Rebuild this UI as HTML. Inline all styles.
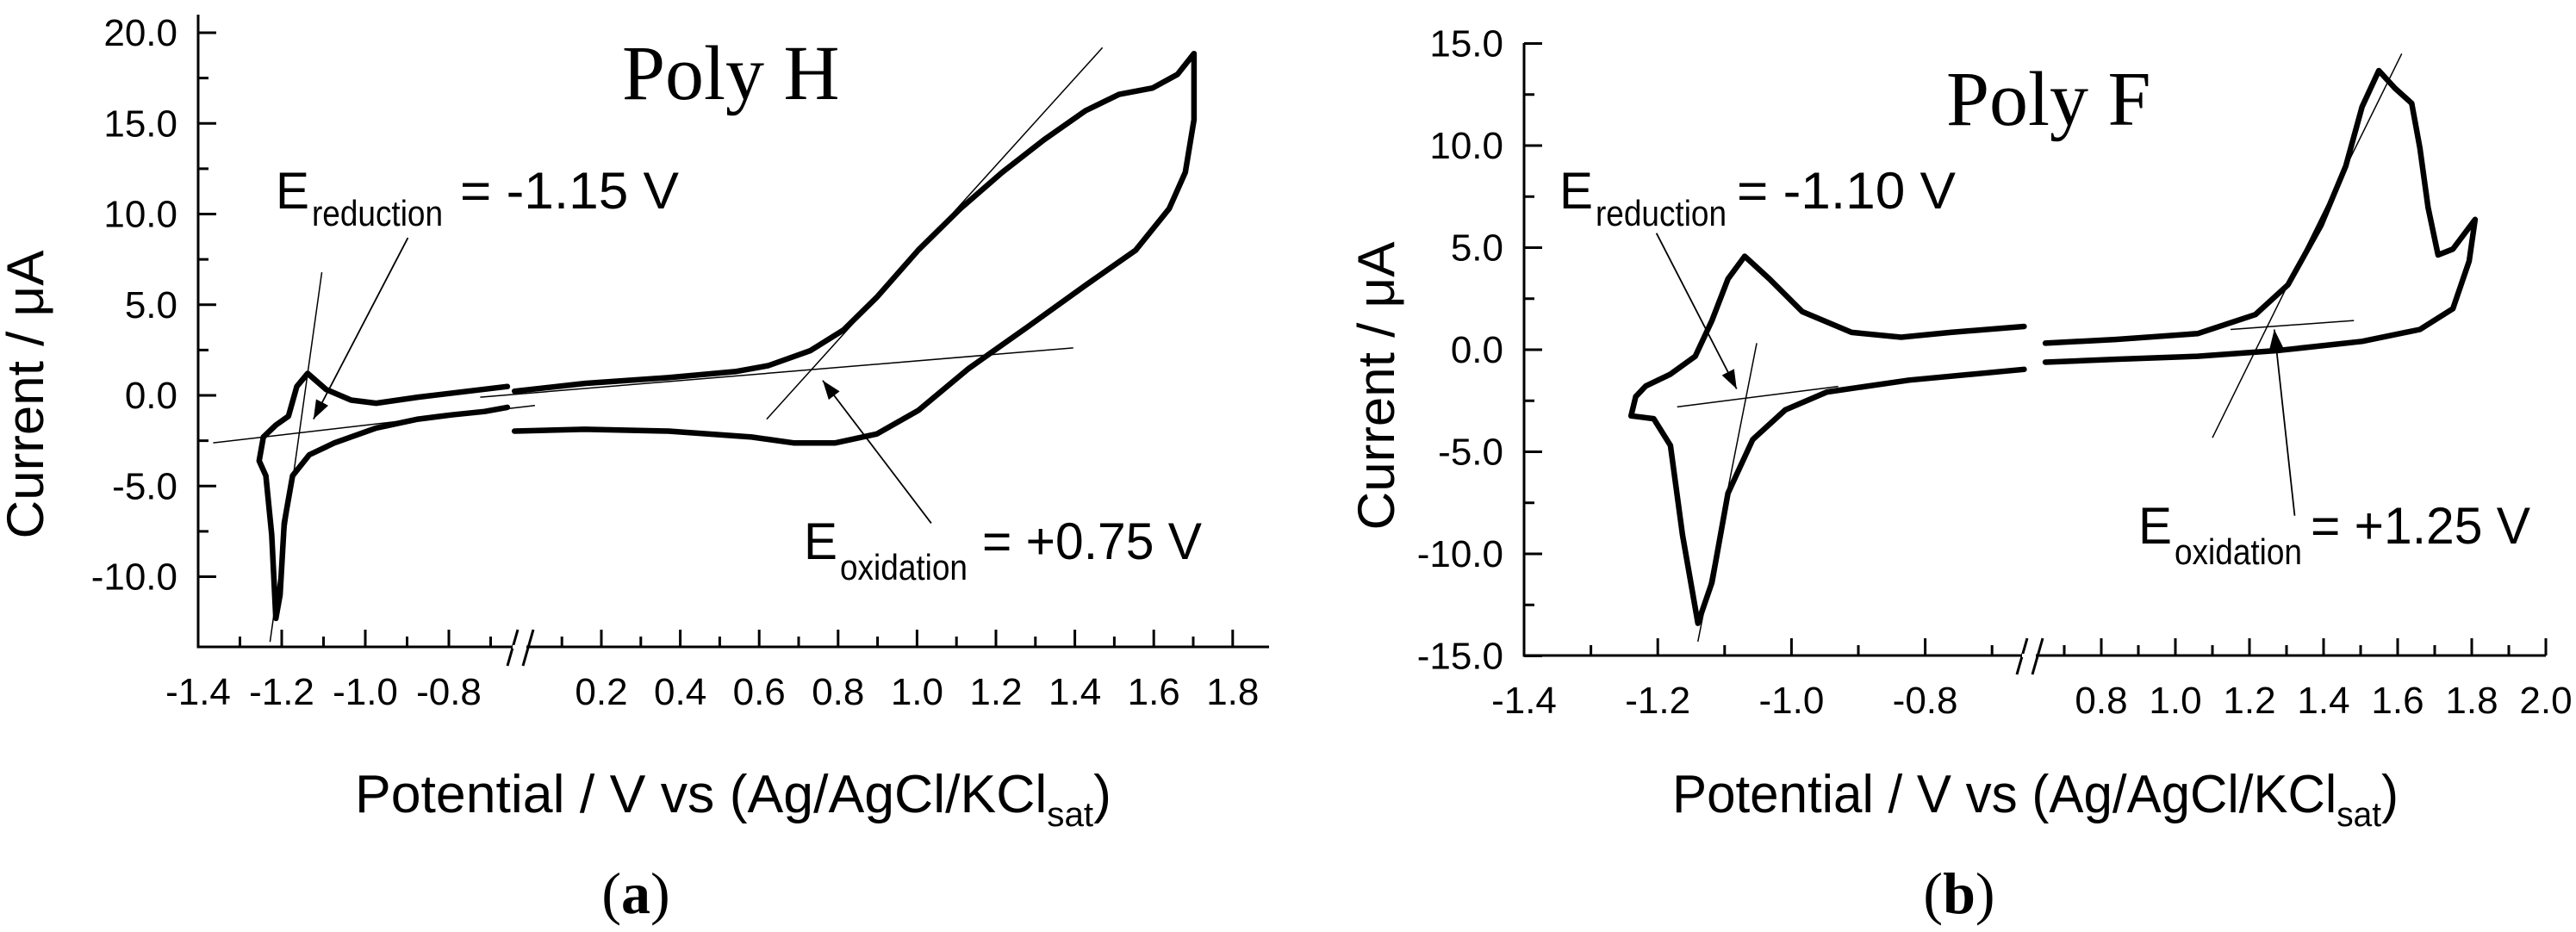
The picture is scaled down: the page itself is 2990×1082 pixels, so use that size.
<!DOCTYPE html>
<html><head><meta charset="utf-8"><style>
html,body{margin:0;padding:0;background:#fff}
svg text{font-family:"Liberation Sans",sans-serif;fill:#000}
.serif{font-family:"Liberation Serif",serif !important}
</style></head><body>
<svg id="fig" width="2990" height="1077" viewBox="0 0 2990 1077" xmlns="http://www.w3.org/2000/svg">
<defs><marker id="ah2" markerWidth="24" markerHeight="24" refX="22" refY="8" orient="auto" markerUnits="userSpaceOnUse"><path d="M0,0 L22,8 L0,16 z" fill="#000"/></marker></defs>
</svg>
<script>
// ---- Panel (a) Poly H data ----
const hLeftX = [-0.66,-0.874,-0.974,-1.034,-1.094,-1.138,-1.164,-1.184,-1.214,-1.244,-1.254,-1.238,-1.224,-1.214,-1.204,-1.194,-1.174,-1.134,-1.074,-0.974,-0.874,-0.794,-0.714,-0.66];
const hLeftY = [0.49,-0.10,-0.43,-0.26,0.33,1.21,0.49,-1.15,-1.64,-2.30,-3.61,-4.43,-7.70,-12.3,-11.0,-7.05,-4.43,-3.28,-2.62,-1.80,-1.31,-1.08,-0.89,-0.66];
const hRightX = [-0.02,0.158,0.37,0.539,0.623,0.729,0.814,0.898,1.004,1.11,1.216,1.322,1.427,1.512,1.597,1.66,1.702,1.702,1.68,1.639,1.554,1.427,1.28,1.131,1.004,0.898,0.793,0.687,0.581,0.37,0.158,-0.02];
const hRightY = [0.23,0.66,0.98,1.31,1.64,2.46,3.61,5.41,8.03,10.3,12.3,14.1,15.7,16.6,16.95,17.7,18.85,15.2,12.3,10.3,8.0,6.07,3.77,1.48,-0.82,-2.13,-2.62,-2.62,-2.30,-1.97,-1.87,-1.97];
const hYTicks = [20,15,10,5,0,-5,-10];
const hYTickLabels = ["20.0","15.0","10.0","5.0","0.0","-5.0","-10.0"];
const hXTicksLeft = [-1.4,-1.2,-1.0,-0.8];
const hXTickLabelsLeft = ["-1.4","-1.2","-1.0","-0.8"];
const hXTicksRight = [0.2,0.4,0.6,0.8,1.0,1.2,1.4,1.6,1.8];
const hXTickLabelsRight = ["0.2","0.4","0.6","0.8","1.0","1.2","1.4","1.6","1.8"];
// ---- Panel (b) Poly F data ----
const fLeftX = [-0.652,-0.762,-0.836,-0.91,-0.984,-1.033,-1.07,-1.095,-1.119,-1.144,-1.181,-1.218,-1.233,-1.24,-1.206,-1.181,-1.163,-1.14,-1.119,-1.095,-1.058,-1.009,-0.947,-0.824,-0.652];
const fLeftY = [1.14,0.85,0.61,0.85,1.87,3.47,4.58,3.47,1.43,-0.32,-1.2,-1.78,-2.30,-3.24,-3.38,-4.69,-9.07,-13.4,-11.4,-7.03,-4.40,-2.94,-2.07,-1.49,-0.96];
const fRightX = [0.649,0.838,1.06,1.216,1.304,1.393,1.46,1.504,1.549,1.593,1.638,1.66,1.682,1.709,1.749,1.809,1.793,1.749,1.66,1.504,1.282,1.06,0.838,0.649];
const fRightY = [0.32,0.50,0.79,1.72,3.18,6.09,9.0,11.9,13.67,12.8,12.07,9.88,6.97,4.64,4.93,6.38,4.34,2.01,0.99,0.41,-0.03,-0.32,-0.47,-0.61];
const fYTicks = [15,10,5,0,-5,-10,-15];
const fYTickLabels = ["15.0","10.0","5.0","0.0","-5.0","-10.0","-15.0"];
const fXTicksLeft = [-1.4,-1.2,-1.0,-0.8];
const fXTickLabelsLeft = ["-1.4","-1.2","-1.0","-0.8"];
const fXTicksRight = [0.8,1.0,1.2,1.4,1.6,1.8,2.0];
const fXTickLabelsRight = ["0.8","1.0","1.2","1.4","1.6","1.8","2.0"];

const svg = document.getElementById('fig');
const NS = 'http://www.w3.org/2000/svg';
function mk(tag, attrs, parent){const e=document.createElementNS(NS,tag);for(const k in attrs)e.setAttribute(k,attrs[k]);(parent||svg).appendChild(e);return e;}

function panel(cfg){
  const g = mk('g',{});
  
  
  const xL = v => cfg.lx0 + (v - cfg.lv0) * cfg.lk;
  const xR = v => cfg.rx0 + (v - cfg.rv0) * cfg.rk;
  const y = i => cfg.y0 - i * cfg.yk;
  const ax = mk('path',{d:`M${cfg.axL},${cfg.axTop} L${cfg.axL},${cfg.axBot} L${cfg.axR},${cfg.axBot}`,stroke:'#000','stroke-width':3,fill:'none'},g);
  
  
  cfg.yTicks.forEach((t,k)=>{
    mk('line',{x1:cfg.axL,x2:cfg.axL+21,y1:y(t),y2:y(t),stroke:'#000','stroke-width':3},g);
    if(k<cfg.yTicks.length-1){const m=t-2.5;mk('line',{x1:cfg.axL,x2:cfg.axL+12,y1:y(m),y2:y(m),stroke:'#000','stroke-width':3},g);}
    const tx = mk('text',{x:cfg.axL-24,y:y(t)+15,'font-size':44,'text-anchor':'end'},g);
    tx.textContent = cfg.yTickLabels[k];
    
    
  });
  const xt = (xs, labels, f, minorEnd) => {
    xs.forEach((t,k)=>{
      mk('line',{x1:f(t),x2:f(t),y1:cfg.axBot,y2:cfg.axBot-20,stroke:'#000','stroke-width':3},g);
      const m=t+cfg.minor; if(m<minorEnd) mk('line',{x1:f(m),x2:f(m),y1:cfg.axBot,y2:cfg.axBot-12,stroke:'#000','stroke-width':3},g);
      const tx = mk('text',{x:f(t),y:cfg.axBot+67,'font-size':44,'text-anchor':'middle'},g);
      tx.textContent = labels[k];
      
      
    });
  };
  xt(cfg.xTicksL, cfg.xTickLabelsL, xL, cfg.lEnd);
  xt(cfg.xTicksR, cfg.xTickLabelsR, xR, cfg.rEnd);
  if(cfg.rStartMinor!==undefined) mk('line',{x1:xR(cfg.rStartMinor),x2:xR(cfg.rStartMinor),y1:cfg.axBot,y2:cfg.axBot-12,stroke:'#000','stroke-width':3},g);
  const bk = mk('path',{d:`M${cfg.brk-14},${cfg.axBot+22} L${cfg.brk-2},${cfg.axBot-20} M${cfg.brk+4},${cfg.axBot+22} L${cfg.brk+16},${cfg.axBot-20}`,stroke:'#000','stroke-width':3,fill:'none'},g);
  
  
  mk('rect',{x:cfg.brk-8,y:cfg.axBot-2,width:16,height:4,fill:'#fff'},g);
  const line = (xs, ys, f, name) => {
    const d = xs.map((v,k)=>(k?'L':'M')+f(v).toFixed(1)+','+y(ys[k]).toFixed(1)).join(' ');
    const p = mk('path',{d:d,stroke:'#000','stroke-width':6.5,fill:'none','stroke-linejoin':'round','stroke-linecap':'round'},g);
    
    
  };
  line(cfg.cLX, cfg.cLY, xL, 'cv-curve-negative');
  line(cfg.cRX, cfg.cRY, xR, 'cv-curve-positive');
  cfg.ann.forEach(a=>{
    const f = a.s==='L'?xL:xR;
    const l = mk('line',{x1:f(a.v[0]),y1:y(a.v[1]),x2:f(a.v[2]),y2:y(a.v[3]),stroke:'#000','stroke-width':a.arrow?1.8:1.5},g);
    if(a.arrow) l.setAttribute('marker-end','url(#ah2)');
    
    
  });
  const T = (x,yy,s,txt,name,extra) => {const t=mk('text',Object.assign({x:x,y:yy,'font-size':s},extra||{}),g);t.innerHTML=txt;return t;};
  T(cfg.title[0],cfg.title[1],90,cfg.title[2],'panel-title',{class:'serif'});
  T(cfg.red[0],cfg.red[1],60,'E','reduction-label',{textLength:39,lengthAdjust:'spacingAndGlyphs'});
  T(cfg.red[0]+42,cfg.red[1]+20,42,'reduction','reduction-subscript',{textLength:152,lengthAdjust:'spacingAndGlyphs'});
  T(cfg.red[2],cfg.red[1],60,cfg.red[3],'reduction-value',{textLength:254,lengthAdjust:'spacingAndGlyphs'});
  T(cfg.ox[0],cfg.ox[1],60,'E','oxidation-label',{textLength:39,lengthAdjust:'spacingAndGlyphs'});
  T(cfg.ox[0]+42,cfg.ox[1]+24,42,'oxidation','oxidation-subscript',{textLength:148,lengthAdjust:'spacingAndGlyphs'});
  T(cfg.ox[2],cfg.ox[1],60,cfg.ox[3],'oxidation-value',{textLength:255,lengthAdjust:'spacingAndGlyphs'});
  T(0,0,60,'Current / μA','y-axis-title',{transform:`translate(${cfg.yTitle[0]},${cfg.yTitle[1]}) rotate(-90)`,'text-anchor':'middle',textLength:335,lengthAdjust:'spacingAndGlyphs'});
  T(cfg.xTitle[0],cfg.xTitle[1],62,'Potential / V vs (Ag/AgCl/KCl<tspan font-size="40" dy="16">sat</tspan><tspan dy="-16">)</tspan>','x-axis-title',{textLength:cfg.xTitle[2],lengthAdjust:'spacingAndGlyphs'});
  T(cfg.lab[0],cfg.lab[1],68,'(<tspan font-weight="bold">'+cfg.lab[2]+'</tspan>)','panel-label',{class:'serif','text-anchor':'middle'});
}

panel({name:'panel-a-poly-h', lx0:230, lv0:-1.4, lk:485, rx0:698, rv0:0.2, rk:458, y0:459, yk:21.05,
  axL:230, axTop:17, axBot:751, axR:1473, minor:0.1, lEnd:-0.65, rEnd:1.9, rStartMinor:0.1, brk:603,
  yTicks:hYTicks, yTickLabels:hYTickLabels, xTicksL:hXTicksLeft, xTickLabelsL:hXTickLabelsLeft, xTicksR:hXTicksRight, xTickLabelsR:hXTickLabelsRight,
  cLX:hLeftX, cLY:hLeftY, cRX:hRightX, cRY:hRightY,
  ann:[{s:'L',v:[-1.364,-2.62,-0.594,-0.56],name:'reduction-baseline'},{s:'L',v:[-1.104,6.79,-1.228,-13.6],name:'reduction-tangent'},
       {s:'L',v:[-0.898,8.69,-1.124,-1.31],arrow:true,name:'reduction-arrow'},
       {s:'R',v:[0.619,-1.31,1.47,19.18],name:'oxidation-tangent'},{s:'R',v:[-0.107,-0.1,1.396,2.62],name:'oxidation-baseline'},
       {s:'R',v:[1.036,-7.05,0.761,0.82],arrow:true,name:'oxidation-arrow'}],
  title:[722,115,'Poly H'], red:[320,242,534,'= -1.15 V'], ox:[933,649,1140,'= +0.75 V'],
  yTitle:[50,458], xTitle:[412,943,878], lab:[738,1060,'a']});

panel({name:'panel-b-poly-f', lx0:1769, lv0:-1.4, lk:776, rx0:2439, rv0:0.8, rk:430, y0:406, yk:23.7,
  axL:1769, axTop:50, axBot:761, axR:2955, minor:0.1, lEnd:-0.62, rEnd:2.0, rStartMinor:0.7, brk:2355,
  yTicks:fYTicks, yTickLabels:fYTickLabels, xTicksL:fXTicksLeft, xTickLabelsL:fXTickLabelsLeft, xTicksR:fXTicksRight, xTickLabelsR:fXTickLabelsRight,
  cLX:fLeftX, cLY:fLeftY, cRX:fRightX, cRY:fRightY,
  ann:[{s:'L',v:[-1.171,-2.80,-0.93,-1.8],name:'reduction-baseline'},{s:'L',v:[-1.052,0.32,-1.14,-14.3],name:'reduction-tangent'},
       {s:'L',v:[-1.202,5.71,-1.082,-1.92],arrow:true,name:'reduction-arrow'},
       {s:'R',v:[1.1,-4.31,1.611,14.5],name:'oxidation-tangent'},{s:'R',v:[1.149,0.99,1.482,1.43],name:'oxidation-baseline'},
       {s:'R',v:[1.322,-8.13,1.267,0.99],arrow:true,name:'oxidation-arrow'}],
  title:[2259,145,'Poly F'], red:[1810,242,2016,'= -1.10 V'], ox:[2482,631,2682,'= +1.25 V'],
  yTitle:[1618,448], xTitle:[1941,943,843], lab:[2274,1060,'b']});
</script>
</body></html>
